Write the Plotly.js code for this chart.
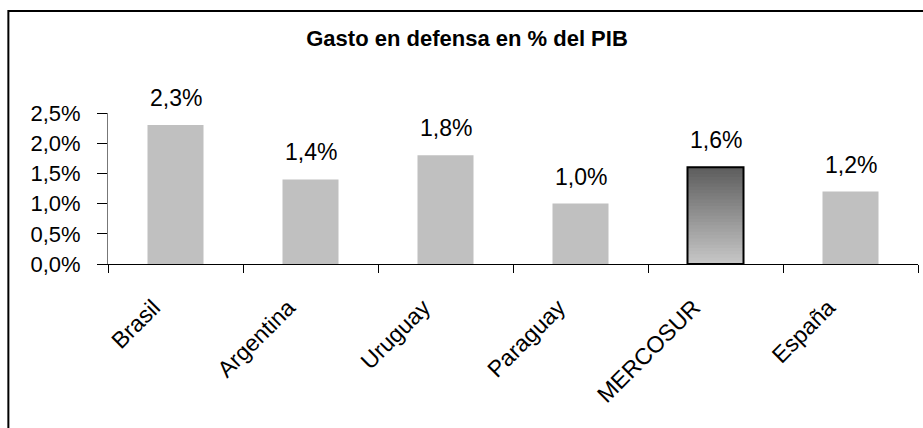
<!DOCTYPE html>
<html>
<head>
<meta charset="utf-8">
<script src="https://cdn.plot.ly/plotly-3.0.1.min.js"></script>
<style>html,body{margin:0;padding:0;background:#fff;}#chart{width:923px;height:428px;}</style>
</head>
<body>
<div id="chart"></div>
<script>
var categories = ["Brasil", "Argentina", "Uruguay", "Paraguay", "MERCOSUR", "España"];
var values = [0.023, 0.014, 0.018, 0.010, 0.016, 0.012];
var highlight = "MERCOSUR";
var chartTitle = "Gasto en defensa en % del PIB";

var font = "Liberation Sans, Arial, sans-serif";
var hIdx = categories.indexOf(highlight);

var traces = [];
traces.push({
  type: "bar", x: categories, y: values,
  marker: {color: categories.map(function(c){return c === highlight ? "#5e5e5e" : "#c0c0c0";}), line: {width: 0}},
  hoverinfo: "skip", showlegend: false
});
// gradient layers for the highlighted bar
var N = 30;
for (var i = 1; i < N; i++) {
  var t = i / (N - 1);
  var g = Math.round(0x5e + (0xc6 - 0x5e) * t);
  var col = "rgb(" + g + "," + g + "," + g + ")";
  traces.push({
    type: "bar", x: [highlight], y: [values[hIdx] * (N - i) / N],
    marker: {color: col, line: {width: 0}}, hoverinfo: "skip", showlegend: false
  });
}
traces.push({
  type: "bar", x: [highlight], y: [values[hIdx]],
  marker: {color: "rgba(0,0,0,0)", line: {width: 2, color: "#000"}}, hoverinfo: "skip", showlegend: false
});

var annotations = categories.map(function(c, k){
  return {
    x: c, y: values[k], xref: "x", yref: "y",
    text: (values[k] * 100).toFixed(1).replace(".", ",") + "%",
    showarrow: false, yanchor: "bottom", yshift: 12,
    font: {family: font, size: 23, color: "#000"}
  };
});

var layout = {
  width: 923, height: 428,
  margin: {l: 108, r: 5, t: 113, b: 164},
  paper_bgcolor: "#fff", plot_bgcolor: "#fff",
  separators: ", ",
  barmode: "overlay",
  bargap: 0.585,
  showlegend: false,
  title: {text: "<b>" + chartTitle + "</b>", x: 0.506, xref: "container", xanchor: "center", y: 0.91, yref: "container", yanchor: "middle",
          font: {family: font, size: 22, color: "#000"}},
  xaxis: {
    type: "category", tickson: "boundaries", ticks: "outside", ticklen: 8, tickcolor: "#000", tickwidth: 1,
    showline: true, linecolor: "#000", linewidth: 1, showgrid: false, zeroline: false,
    tickangle: -45, ticklabelstandoff: 20, ticklabelshift: -22,
    tickfont: {family: font, size: 23, color: "#000"}, fixedrange: true
  },
  yaxis: {
    range: [0, 0.025], dtick: 0.005, tickformat: ".1%", ticks: "outside", ticklen: 10, tickcolor: "#000", tickwidth: 1,
    showline: true, linecolor: "#777", linewidth: 1, showgrid: false, zeroline: false,
    ticklabelstandoff: 12,
    tickfont: {family: font, size: 22, color: "#000"}, fixedrange: true
  },
  annotations: annotations,
  shapes: [{type: "rect", xref: "paper", yref: "paper", x0: -0.123, x1: 1.02, y0: -1.2, y1: 1.675,
            line: {color: "#000", width: 2}, fillcolor: "rgba(0,0,0,0)", layer: "below"}]
};

Plotly.newPlot("chart", traces, layout, {staticPlot: true, displayModeBar: false});
</script>
</body>
</html>
